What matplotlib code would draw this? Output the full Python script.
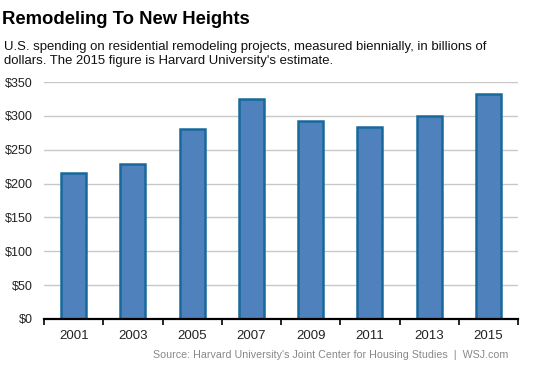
import matplotlib.pyplot as plt

plt.rcParams['font.family'] = ['Liberation Sans', 'DejaVu Sans']

years = ['2001', '2003', '2005', '2007', '2009', '2011', '2013', '2015']
spending = [215, 229, 281, 325, 293, 283, 300, 332]
y_ticks = [0, 50, 100, 150, 200, 250, 300, 350]


def __main__():
    fig = plt.figure(figsize=(5.53, 3.69), dpi=100)
    ax = fig.add_axes([44 / 553, 1 - 319 / 369, 474 / 553, 237 / 369])

    x = range(len(years))
    ax.bar(x, spending, width=0.42, color='#4f81bd', edgecolor='#17699c',
           linewidth=1.8, zorder=3)

    ax.set_xlim(-0.5, len(years) - 0.5)
    ax.set_ylim(0, 350)
    ax.set_yticks(y_ticks)
    ax.set_yticklabels(['$' + str(v) for v in y_ticks], fontsize=9, color='#222222')
    ax.set_xticks([i - 0.5 for i in range(len(years) + 1)], minor=False)
    ax.set_xticklabels([])
    ax.set_xticks(list(x), minor=True)
    ax.set_xticklabels(years, minor=True, fontsize=9.5, color='#222222')
    ax.tick_params(axis='x', which='major', length=4, width=1.2, color='black', direction='out')
    ax.tick_params(axis='x', which='minor', length=0, pad=8)
    ax.tick_params(axis='y', length=0, pad=8)

    ax.grid(axis='y', color='#c8c8c8', linewidth=1, zorder=0)
    for s in ['top', 'right', 'left']:
        ax.spines[s].set_visible(False)
    ax.spines['bottom'].set_linewidth(1.6)
    ax.spines['bottom'].set_zorder(4)

    fig.text(2 / 553, 1 - 19 / 369, 'Remodeling To New Heights', fontsize=13.3,
             fontweight='bold', va='center', ha='left')
    fig.text(4 / 553, 1 - 41 / 369,
             "U.S. spending on residential remodeling projects, measured biennially, in billions of\n"
             "dollars. The 2015 figure is Harvard University's estimate.",
             fontsize=9.45, va='top', ha='left', linespacing=1.25, color='#111111')
    fig.text(508 / 553, 1 - 355 / 369,
             "Source: Harvard University's Joint Center for Housing Studies  |  WSJ.com",
             fontsize=7.7, va='center', ha='right', color='#888888')

    fig.savefig('out.png', dpi=100)


if __name__ == "__main__":
    __main__()
